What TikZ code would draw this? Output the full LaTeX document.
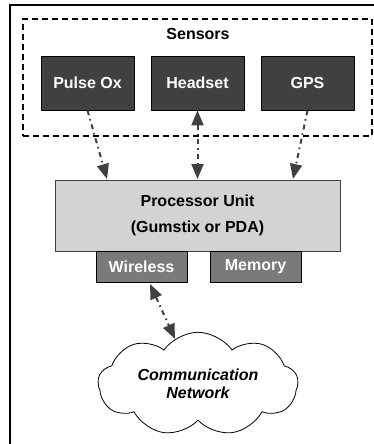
\documentclass[tikz,border=0pt]{standalone}
\usepackage{fontspec}
\setmainfont{Liberation Sans}
\usetikzlibrary{arrows.meta,shapes.symbols}
\definecolor{dark}{HTML}{404040}
\definecolor{lightg}{HTML}{D3D3D3}
\definecolor{midg}{HTML}{7A7A7A}
\begin{document}
\begin{tikzpicture}[x=1pt,y=-1pt,
  sensorbox/.style={draw=black,line width=0.8pt,fill=dark,text=white,font=\bfseries\fontsize{16}{18}\selectfont,minimum width=93pt,minimum height=54pt,inner sep=0pt},
  subbox/.style={draw=black,line width=0.8pt,fill=midg,text=white,font=\bfseries\fontsize{16}{18}\selectfont,minimum width=91pt,minimum height=31pt,inner sep=0pt},
  link/.style={draw=dark,line width=2pt,dash pattern=on 5pt off 4pt on 1.5pt off 4pt,-{Triangle[width=12pt,length=15pt]}},
  blink/.style={link,{Triangle[width=12pt,length=15pt]}-{Triangle[width=12pt,length=15pt]}}]
\useasboundingbox (0,0) rectangle (374,444);
% outer frame
\draw[line width=2pt] (10,450) -- (10,5.5) -- (380,5.5);
% sensors group
\node[draw,line width=1.5pt,dash pattern=on 6pt off 4pt,minimum width=349pt,minimum height=117pt,inner sep=0pt] (grp) at (197.5,77.5) {};
\node[font=\bfseries\fontsize{16}{18}\selectfont] (sl) at (198,34) {Sensors};
\node[sensorbox] (p) at (87.5,83) {Pulse Ox};
\node[sensorbox] (h) at (197.5,83) {Headset};
\node[sensorbox] (g) at (307.5,83) {GPS};
% processor
\node[draw=dark,line width=0.8pt,fill=lightg,minimum width=285pt,minimum height=71pt,inner sep=0pt,align=center,font=\bfseries\fontsize{16}{26}\selectfont] (proc) at (197.5,215.5) {Processor Unit\\(Gumstix or PDA)};
\node[subbox] (w) at (141.5,266.5) {Wireless};
\node[subbox] (m) at (255.5,266.5) {Memory};
% cloud
\node[cloud,draw=black,line width=0.8pt,fill=white,cloud puffs=9,cloud puff arc=110,aspect=2.2,minimum width=200pt,minimum height=94pt,inner sep=0pt,align=center,font=\bfseries\itshape\fontsize{16}{18}\selectfont] (c) at (198,384) {Communication\\Network};
% connectors
\coordinate (pin) at (107,179);
\coordinate (gin) at (293,179);
\coordinate (hin) at (197.5,179);
\coordinate (wout) at (150,284);
\coordinate (cin) at (175,339);
\draw[link] (p.south) -- (pin);
\draw[blink] (h.south) -- (hin);
\draw[link] (g.south) -- (gin);
\draw[blink] (wout) -- (cin);
\end{tikzpicture}
\end{document}
